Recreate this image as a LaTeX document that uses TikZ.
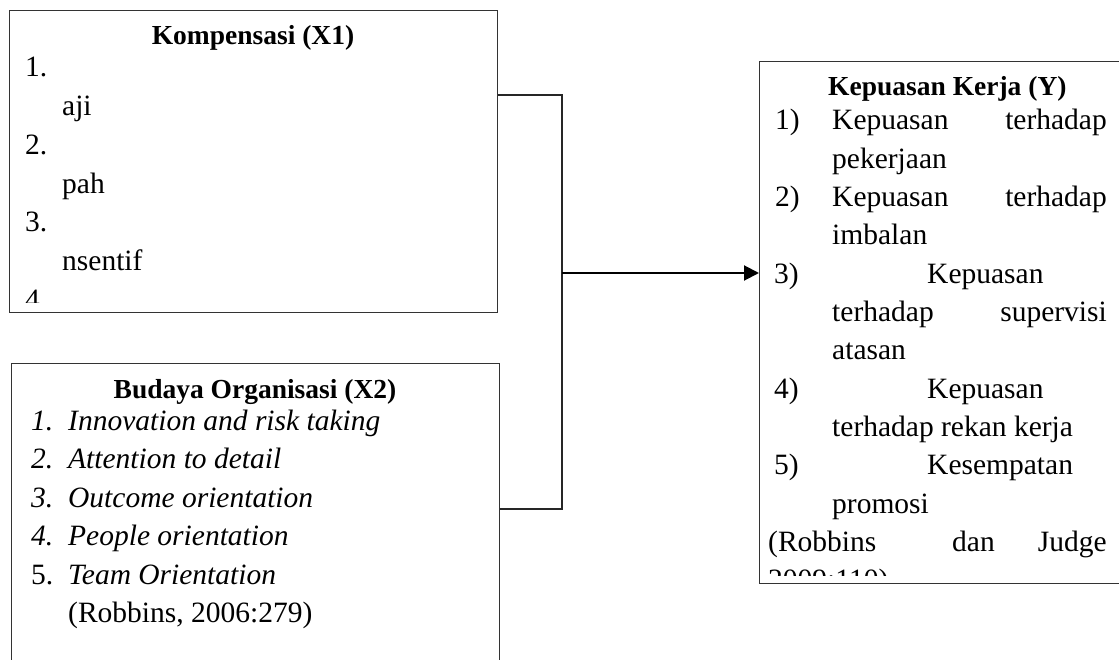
\documentclass[tikz,border=0pt]{standalone}
\usepackage{fontspec}
\setmainfont{Liberation Serif}
\usetikzlibrary{arrows.meta}
\begin{document}
\begin{tikzpicture}[x=1pt,y=-1pt,
  boxst/.style={draw=black!80, line width=1.1pt, rectangle, inner sep=0pt, anchor=north west},
  conn/.style={draw=black!85, line width=1.3pt},
  arr/.style={draw=black, line width=2pt, -{Triangle[length=15pt,width=15pt]}},
  body/.style={inner sep=0pt, anchor=base west, font=\fontsize{29.5}{35}\selectfont},
  bodye/.style={body, anchor=base east},
  ttl/.style={inner sep=0pt, anchor=base, font=\fontsize{27.5}{33}\selectfont\bfseries},
  ttlw/.style={ttl, anchor=base west}]
\useasboundingbox (0,0) rectangle (1119,660);
\fill[white] (0,0) rectangle (1119,660);

% boxes
\node[boxst, minimum width=488pt, minimum height=302pt] (x1) at (9,10) {};
\node[boxst, minimum width=488pt, minimum height=330pt] (x2) at (11,363) {};
\node[boxst, minimum width=380pt, minimum height=522pt] (y) at (759,61) {};

% connectors
\coordinate (j1) at (562,95);
\coordinate (j2) at (562,509);
\coordinate (ja) at (562,273);
\draw[conn] (x1.north east |- j1) -- (j1) -- (j2) -- (x2.north east |- j2);
\draw[arr] (ja) -- (y.west |- ja);

% box X1
\node[ttl] (t1) at (253,45) {Kompensasi (X1)};
\begin{scope}
\clip (10,11) rectangle (496,303);
\node[body] (a1) at (25,77) {1.};
\node[body] (a2) at (62,115.7) {aji};
\node[body] (a3) at (25,154.4) {2.};
\node[body] (a4) at (62,193.1) {pah};
\node[body] (a5) at (25,231.8) {3.};
\node[body] (a6) at (62,270.5) {nsentif};
\node[body] (a7) at (25,309.2) {4.};
\end{scope}

% box X2
\node[ttl] (t2) at (255,398) {Budaya Organisasi (X2)};
\node[body] (b1n) at (31,430) {\itshape 1.};
\node[body] (b1) at (68,430) {\itshape Innovation and risk taking};
\node[body] (b2n) at (31,468.5) {\itshape 2.};
\node[body] (b2) at (68,468.5) {\itshape Attention to detail};
\node[body] (b3n) at (31,507) {\itshape 3.};
\node[body] (b3) at (68,507) {\itshape Outcome orientation};
\node[body] (b4n) at (31,545.5) {\itshape 4.};
\node[body] (b4) at (68,545.5) {\itshape People orientation};
\node[body] (b5n) at (31,584) {5.};
\node[body] (b5) at (68,584) {\itshape Team Orientation};
\node[body] (b6) at (68,622.5) {(Robbins, 2006:279)};

% box Y
\node[ttlw] (t3) at (828,96) {Kepuasan Kerja (Y)};
\node[body] (c1n) at (775,130) {1)};
\node[body] (c1a) at (832,130) {Kepuasan};
\node[bodye] (c1b) at (1107,130) {terhadap};
\node[body] (c2) at (832,168.3) {pekerjaan};
\node[body] (c3n) at (775,206.6) {2)};
\node[body] (c3a) at (832,206.6) {Kepuasan};
\node[bodye] (c3b) at (1107,206.6) {terhadap};
\node[body] (c4) at (832,244.9) {imbalan};
\node[body] (c5n) at (774,283.2) {3)};
\node[body] (c5a) at (927,283.2) {Kepuasan};
\node[body] (c6a) at (832,321.5) {terhadap};
\node[bodye] (c6b) at (1107,321.5) {supervisi};
\node[body] (c7) at (832,359.8) {atasan};
\node[body] (c8n) at (774,398.1) {4)};
\node[body] (c8a) at (927,398.1) {Kepuasan};
\node[body] (c9) at (832,436.4) {terhadap rekan kerja};
\node[body] (c10n) at (774,474.7) {5)};
\node[body] (c10a) at (927,474.7) {Kesempatan};
\node[body] (c11) at (832,513) {promosi};
\node[body] (c12a) at (768,551.3) {(Robbins};
\node[body] (c12b) at (952,551.3) {dan};
\node[bodye] (c12c) at (1107,551.3) {Judge};
\begin{scope}
\clip (760,62) rectangle (1119,575);
\node[body] (c13) at (768,589.6) {2009:110)};
\end{scope}
\end{tikzpicture}
\end{document}
